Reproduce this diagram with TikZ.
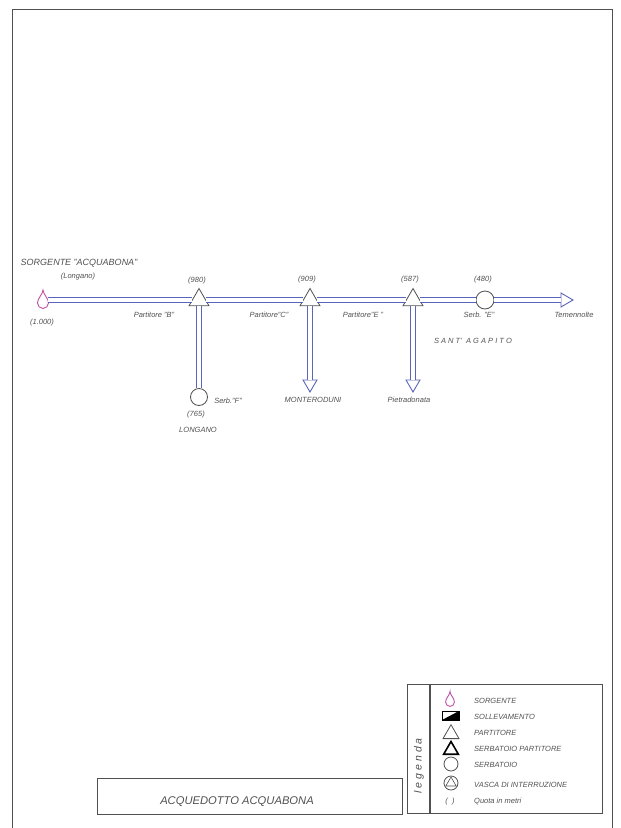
\documentclass[tikz,border=0pt]{standalone}
\usepackage{fontspec}
\setmainfont{Liberation Sans}
\usetikzlibrary{shapes.geometric}

\definecolor{pipeblue}{HTML}{5A64B8}
\definecolor{dropink}{HTML}{C050A5}
\definecolor{inkgray}{HTML}{505050}

\tikzset{
    pipe/.style={draw=pipeblue, line width=1.3pt, double=white, double distance=3.2pt},
    partitore/.style={draw=inkgray, fill=white, regular polygon, regular polygon sides=3, minimum size=23pt, inner sep=0pt, line width=0.8pt},
    serbatoio/.style={draw=inkgray, fill=white, circle, minimum size=#1, inner sep=0pt, line width=0.8pt},
    freccia/.style={draw=pipeblue, fill=white, isosceles triangle, isosceles triangle stretches, minimum width=14pt, minimum height=12pt, inner sep=0pt, line width=0.9pt, shape border rotate=#1},
    etichetta/.style={font=\itshape\fontsize{7.5}{9}\selectfont, text=inkgray, inner sep=0pt, yshift=-0.8pt},
    voce/.style={etichetta, anchor=west},
    goccia/.pic={\draw[dropink, line width=0.9pt] (0,-13) .. controls (0.5,-8) and (5.5,-5) .. (5.5,0) .. controls (5.5,3) and (3,5.5) .. (0,5.5) .. controls (-3,5.5) and (-5.5,3) .. (-5.5,0) .. controls (-5.5,-5) and (-0.5,-8) .. cycle;},
}

\begin{document}
\begin{tikzpicture}[x=1pt,y=-1pt]
    \useasboundingbox (0,0) rectangle (621,828);

    % foglio
    \draw[inkgray, line width=0.9pt] (12,828) -- (12,9) -- (612,9) -- (612,828);

    % nodi
    \coordinate (sorgente) at (48,300);
    \pic at (43,303) {goccia};
    \node[partitore] (partB) at (199,300) {};
    \node[partitore] (partC) at (310,300) {};
    \node[partitore] (partE) at (413,300) {};
    \node[serbatoio=18pt] (serbE) at (485,300) {};
    \node[serbatoio=17pt] (serbF) at (199,397) {};
    \node[freccia=0] (temen) at (565,300) {};
    \node[freccia=270] (monte) at (310,384) {};
    \node[freccia=270] (pietra) at (413,384) {};

    % condotte
    \draw[pipe] (sorgente) -- (partB);
    \draw[pipe] (partB) -- (partC);
    \draw[pipe] (partC) -- (partE);
    \draw[pipe] (partE) -- (serbE);
    \draw[pipe] (serbE) -- (temen);
    \draw[pipe] (partB) -- (serbF);
    \draw[pipe] (partC) -- (monte);
    \draw[pipe] (partE) -- (pietra);

    % etichette
    \node[etichetta, font=\itshape\fontsize{9}{11}\selectfont] (nomeS) at (79,262) {SORGENTE "ACQUABONA"};
    \node[etichetta] (comS) at (78,276) {(Longano)};
    \node[etichetta] (quotaS) at (42,322) {(1.000)};
    \node[etichetta] (quotaB) at (197,280) {(980)};
    \node[etichetta] (quotaC) at (307,279) {(909)};
    \node[etichetta] (quotaE) at (410,279) {(587)};
    \node[etichetta] (quotaSE) at (483,279) {(480)};
    \node[etichetta] (nomeB) at (154,314) {Partitore "B"};
    \node[etichetta] (nomeC) at (269,314) {Partitore"C"};
    \node[etichetta] (nomeE) at (363,314) {Partitore"E "};
    \node[etichetta] (nomeSE) at (479,314) {Serb. "E"};
    \node[etichetta] (nomeT) at (574,314) {Temennolte};
    \node[etichetta] (agapito) at (473,340) {S A N T' \ A G A P I T O};
    \node[etichetta] (nomeM) at (313,399) {MONTERODUNI};
    \node[etichetta] (nomeP) at (409,399) {Pietradonata};
    \node[etichetta] (nomeSF) at (228,400) {Serb."F"};
    \node[etichetta] (quotaF) at (196,414) {(765)};
    \node[etichetta] (nomeL) at (198,429) {LONGANO};

    % titolo
    \draw[inkgray, line width=0.8pt] (97,778) rectangle (402,814);
    \node[etichetta, font=\itshape\fontsize{11.2}{13}\selectfont] (titolo) at (237,801) {ACQUEDOTTO ACQUABONA};

    % legenda
    \draw[inkgray, line width=0.8pt] (407,684) rectangle (602,813);
    \draw[inkgray, line width=1.2pt] (430,684) -- (430,813);
    \node[etichetta, font=\itshape\fontsize{10.5}{12}\selectfont, rotate=90] (legenda) at (419,765) {l e g e n d a};

    \pic[scale=0.8] at (450,702) {goccia};
    \draw[black, line width=0.6pt] (442,711) rectangle (459,720);
    \fill[black] (442,720) -- (459,711) -- (459,720) -- cycle;
    \node[partitore, minimum size=18.5pt] (legP) at (451,734) {};
    \node[partitore, minimum size=17pt, draw=black, line width=1.6pt] (legSP) at (451,750) {};
    \node[serbatoio=14pt] (legS) at (451,764) {};
    \node[serbatoio=14pt] (legV) at (451,783) {};
    \node[partitore, minimum size=12pt, line width=0.6pt] (legVT) at (451,783) {};
    \node[etichetta] (legQ) at (450,801) {( \ )};

    \node[voce] at (474,700) {SORGENTE};
    \node[voce] at (474,716) {SOLLEVAMENTO};
    \node[voce] at (474,732) {PARTITORE};
    \node[voce] at (474,748) {SERBATOIO PARTITORE};
    \node[voce] at (474,764) {SERBATOIO};
    \node[voce] at (474,784) {VASCA DI INTERRUZIONE};
    \node[voce] at (474,801) {Quota in metri};
\end{tikzpicture}
\end{document}
